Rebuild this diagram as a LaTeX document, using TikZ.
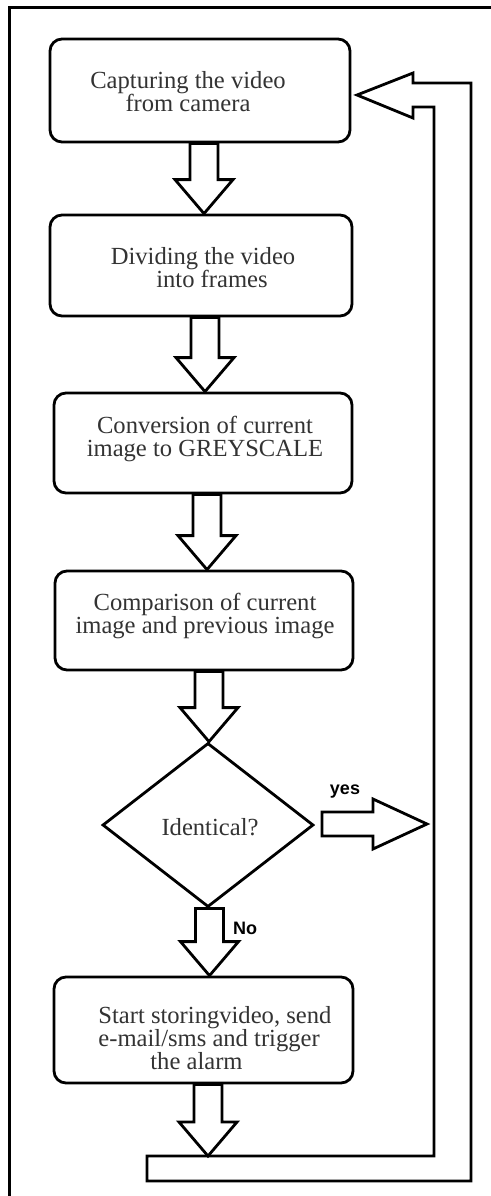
\documentclass[tikz,border=0pt]{standalone}
\usepackage{fontspec}
\setmainfont{Liberation Serif}
\newfontfamily\lsans{Liberation Sans}
\usetikzlibrary{shapes.geometric,calc}
\newcommand{\blockdown}[3]{%
  \draw[blk] let \p1=(#1), \p2=($(#2)+(#3,0)$) in
    (\x2-7pt,\y1) -- (\x2-7pt,\y2+17pt) -- (\x2-14.5pt,\y2+17pt) -- (\x2,\y2)
    -- (\x2+14.5pt,\y2+17pt) -- (\x2+7pt,\y2+17pt) -- (\x2+7pt,\y1) -- cycle;}
\begin{document}
\begin{tikzpicture}[x=0.5pt,y=-0.5pt,
  ln/.style={line width=1.4pt, line join=miter},
  box/.style={ln, draw, rounded corners=6pt, inner sep=0pt},
  txt/.style={font=\fontsize{12.3}{11.5}\selectfont, align=center, text=black!80, inner sep=0pt},
  blk/.style={ln, draw, fill=white},
  lbl/.style={font=\lsans\bfseries\fontsize{9}{10}\selectfont, inner sep=0pt}]
\useasboundingbox (0,0) rectangle (491,1196);
\fill[white] (0,0) rectangle (491,1196);
% frame
\draw[line width=1.5pt] (9,1210) -- (9,7) -- (500,7);
% boxes
\node[box, minimum width=150pt, minimum height=51.5pt] (b1) at (200,90.5) {};
\node[box, minimum width=151pt, minimum height=50.5pt] (b2) at (201,265.5) {};
\node[box, minimum width=149pt, minimum height=50pt] (b3) at (203,443) {};
\node[box, minimum width=149pt, minimum height=49.5pt] (b4) at (204,620.5) {};
\node[ln, draw, diamond, minimum width=105.5pt, minimum height=82pt, inner sep=0pt] (d) at (208,825) {};
\node[box, minimum width=149.5pt, minimum height=53pt] (b5) at (203.5,1030) {};
% texts
\node[txt] (t1) at (188,92) {Capturing the video\\from camera};
\node[txt] (t2) at (203,268) {Dividing the video\\\hspace*{9pt}into frames};
\node[txt] (t3) at (205,439) {Conversion of current\\image to GREYSCALE};
\node[txt] (t4) at (205,616) {Comparison of current\\image and previous image};
\node[txt] (td) at (210,827) {Identical?};
\node[txt, align=left, anchor=west] (t5) at (98,1038) {Start storingvideo, send\\e-mail/sms and trigger\\\hspace*{26pt}the alarm};
% down block arrows
\blockdown{b1.south}{b2.north}{3}
\blockdown{b2.south}{b3.north}{2}
\blockdown{b3.south}{b4.north}{3}
\blockdown{b4.south}{d.north}{1}
\blockdown{d.south}{b5.north}{6}
% feedback path
\coordinate (fbtip) at (357,95);
\coordinate (bartop) at (208,1156);
\draw[blk] (fbtip) -- ++(56,-22) -- ++(0,10) -- (471,83) -- (471,1181)
  -- (147,1181) -- (147,1156) -- (434,1156) -- (434,107) -- (413,107)
  -- (413,118) -- cycle;
\blockdown{b5.south}{bartop}{0}
% yes arrow
\coordinate (ytip) at (427,824);
\draw[blk] let \p1=($(d.east)+(7,0)$), \p2=(ytip) in
  (\x1,\y2+6pt) -- (\x2-27pt,\y2+6pt) -- (\x2-27pt,\y2+12.5pt) -- (\p2)
  -- (\x2-27pt,\y2-12.5pt) -- (\x2-27pt,\y2-6pt) -- (\x1,\y2-6pt) -- cycle;
% labels
\node[lbl] (lyes) at (345,792) {yes};
\node[lbl] (lno) at (245,928) {No};
\end{tikzpicture}
\end{document}
